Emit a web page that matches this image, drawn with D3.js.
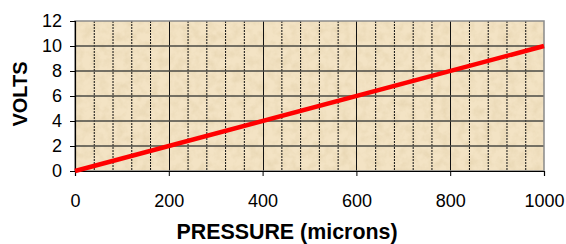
<!DOCTYPE html>
<html><head><meta charset="utf-8">
<script src="https://cdn.jsdelivr.net/npm/d3@7"></script>
<style>body{margin:0;background:#fff}svg{display:block}text{font-family:"Liberation Sans",Arial,sans-serif}</style>
</head><body>
<svg id="c" width="566" height="244"></svg>
<script>
const pressure = [0, 1000];
const volts = [0, 10];
const xTicks = [0, 200, 400, 600, 800, 1000];
const yTicks = [0, 2, 4, 6, 8, 10, 12];
const xMinor = d3.range(0, 1001, 40);

const svg = d3.select("#c");
const m = {l: 75, r: 544, t: 21, b: 171};
const x = d3.scaleLinear().domain([0, 1000]).range([m.l, m.r]);
const y = d3.scaleLinear().domain([0, 12]).range([m.b, m.t]);

const defs = svg.append("defs");
const f = defs.append("filter").attr("id","tex").attr("x",0).attr("y",0).attr("width","100%").attr("height","100%");
f.append("feTurbulence").attr("type","fractalNoise").attr("baseFrequency","0.12").attr("numOctaves",3).attr("seed",4).attr("result","n");
f.append("feColorMatrix").attr("in","n").attr("type","matrix")
 .attr("values","0 0 0 0 0.55  0 0 0 0 0.42  0 0 0 0 0.2  1.2 0 0 0 -0.45");

svg.append("rect").attr("x",m.l).attr("y",m.t).attr("width",m.r-m.l).attr("height",m.b-m.t).attr("fill","#f3e3c4");
svg.append("rect").attr("x",m.l).attr("y",m.t).attr("width",m.r-m.l).attr("height",m.b-m.t).attr("fill","#fff").attr("filter","url(#tex)").attr("opacity",0.35);

// minor dashed verticals
svg.append("g").selectAll("line").data(xMinor.filter(d=>d%200!==0)).join("line")
 .attr("x1",d=>x(d)+0.5).attr("x2",d=>x(d)+0.5).attr("y1",m.t).attr("y2",m.b)
 .attr("stroke","#111").attr("stroke-width",1).attr("stroke-dasharray","2,1");
// major verticals
svg.append("g").selectAll("line").data(xTicks.filter(d=>d>0&&d<1000)).join("line")
 .attr("x1",d=>Math.round(x(d))+0.5).attr("x2",d=>Math.round(x(d))+0.5).attr("y1",m.t).attr("y2",m.b)
 .attr("stroke","#111").attr("stroke-width",1);
// horizontal grid
svg.append("g").selectAll("line").data(yTicks.filter(d=>d>0&&d<12)).join("line")
 .attr("x1",m.l).attr("x2",m.r).attr("y1",d=>y(d)).attr("y2",d=>y(d))
 .attr("stroke","#4a4a44").attr("stroke-width",1.5);

// border
svg.append("rect").attr("x",m.l).attr("y",m.t).attr("width",m.r-m.l).attr("height",m.b-m.t)
 .attr("fill","none").attr("stroke","#8a8a8a").attr("stroke-width",1.5);

// axes
const ya = svg.append("g").attr("transform",`translate(${m.l},0)`)
 .call(d3.axisLeft(y).tickValues(yTicks).tickSize(5).tickPadding(8));
ya.select(".domain").attr("stroke","#000").attr("stroke-width",1.2);
ya.selectAll("text").attr("font-size",18).attr("fill","#000").attr("font-family","Liberation Sans, Arial, sans-serif");
const xa = svg.append("g").attr("transform",`translate(0,${m.b})`)
 .call(d3.axisBottom(x).tickValues(xTicks).tickFormat(d3.format("d")).tickSize(5).tickPadding(18));
xa.select(".domain").attr("stroke","#000").attr("stroke-width",1.2);
xa.selectAll("text").attr("font-size",18).attr("fill","#000").attr("font-family","Liberation Sans, Arial, sans-serif");

// data line
svg.append("path").datum(pressure.map((p,i)=>[p,volts[i]]))
 .attr("d",d3.line().x(d=>x(d[0])).y(d=>y(d[1])))
 .attr("stroke","#ff0000").attr("stroke-width",4.5).attr("fill","none");

svg.append("text").attr("x",287).attr("y",239).attr("text-anchor","middle")
 .attr("font-size",21.4).attr("font-weight","bold").text("PRESSURE (microns)");
svg.append("text").attr("transform","translate(27,94) rotate(-90)").attr("text-anchor","middle")
 .attr("font-size",20).attr("font-weight","bold").text("VOLTS");
</script>
</body></html>
